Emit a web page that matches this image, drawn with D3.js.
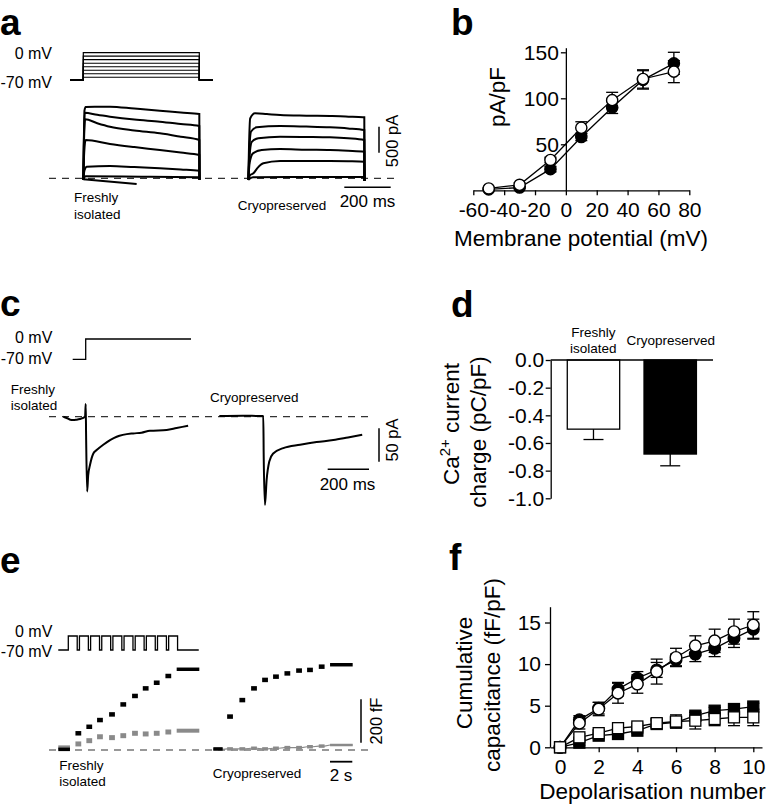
<!DOCTYPE html>
<html><head><meta charset="utf-8">
<script src="https://cdn.jsdelivr.net/npm/d3@7"></script>
<style>
body{margin:0;background:#fff}
svg{display:block}
text{font-family:"Liberation Sans",Arial,Helvetica,sans-serif;fill:#000}
</style>
</head><body>
<svg id="fig" width="776" height="811"></svg>
<script>
// ================= DATA =================
// Panel a – step protocol levels (mV)
const aStepLevels = [-63, -54, -45, -36, -27, -18, -9, 0];
// Panel a – current traces [time ms, current pA], freshly isolated
const aFreshTraces = [
  [[0,-30],[2,600],[5,1300],[10,1371],[60,1375],[115,1377],[220,1340],[330,1300],[420,1265],[500,1237],[501,-30]],
  [[0,-30],[2,600],[6,1262],[60,1220],[115,1185],[220,1130],[330,1088],[420,1045],[500,1006],[501,-30]],
  [[0,-30],[3,700],[8,1135],[60,1060],[115,992],[220,920],[330,865],[420,800],[500,737],[501,-30]],
  [[0,-30],[4,500],[10,737],[115,660],[220,600],[330,544],[420,495],[500,448],[501,-30]],
  [[0,-30],[5,150],[15,223],[115,237],[220,215],[330,192],[420,170],[500,146],[501,-30]],
  [[0,-30],[10,40],[250,30],[500,20],[501,-30]],
  [[0,-20],[230,-110]]
];
// Panel a – current traces, cryopreserved
const aCryoTraces = [
  [[0,-30],[3,600],[8,1150],[29,1250],[80,1235],[137,1217],[250,1205],[352,1198],[420,1190],[494,1173],[500,1173],[501,-50]],
  [[0,-30],[4,500],[12,900],[36,981],[137,1006],[250,995],[352,981],[430,960],[500,929],[501,-50]],
  [[0,-30],[5,400],[15,700],[43,769],[137,800],[250,795],[352,788],[430,770],[500,737],[501,-50]],
  [[0,-30],[6,300],[20,480],[58,544],[137,563],[250,550],[352,544],[430,530],[500,512],[501,-50]],
  [[0,-30],[8,60],[22,96],[40,200],[65,288],[137,333],[250,335],[352,333],[430,328],[500,320],[501,-50]],
  [[0,-30],[20,20],[250,25],[500,25],[501,-50]]
];

// Panel b – I–V relation
const bVoltages = [-50, -30, -10, 10, 30, 50, 70];
const bFilled    = [1, 3, 23, 58, 90, 120, 138];
const bFilledErr = [1, 1, 3, 4, 6.5, 10, 12];
const bOpen      = [2, 6, 33, 68, 98, 121, 129];
const bOpenErr   = [1, 2, 3, 6.5, 8.5, 10, 12];
const bXTicks = [-60, -40, -20, 0, 20, 40, 60, 80];
const bYTicks = [50, 100, 150];

// Panel c – Ca2+ current traces [ms, pA]
const cFreshTrace = [[-108,0],[-92,-2],[-75,-4.5],[-60,-5],[-45,-4.5],[-28,-3.5],[-3,0],[0,19],[2,-30],[7,-112],[12,-88],[21,-72],[37,-55],[53,-50],[85,-42],[150,-30],[230,-25],[270,-24],[311,-21],[392,-20],[440,-17],[496,-13.5]];
const cCryoTrace  = [[-213,1],[-100,1.5],[-10,1],[0,1],[2,-60],[8,-132],[16,-95],[29,-67],[48,-55],[97,-47],[178,-42],[258,-38],[339,-35],[410,-31],[479,-27]];

// Panel d – integrated Ca2+ charge
const dGroups = ["Freshly isolated", "Cryopreserved"];
const dValues = [-0.50, -0.68];
const dErrors = [0.075, 0.085];
const dYTicks = [0, -0.2, -0.4, -0.6, -0.8, -1.0];

// Panel e – capacitance traces (fF); first = pre-train, last = post-train, rest between pulses
const eFreshTimes = [0.9, 1.88, 2.84, 3.92, 4.93, 5.98, 6.94, 7.93, 8.97];
const eFreshBlack = [3, 77, 107, 138, 164, 210, 249, 284, 310, 341, 372];
const eFreshGray  = [12, 28, 43, 61, 57, 66, 77, 74, 77, 83, 89];
const eCryoTimes  = [0.9, 2.0, 3.05, 4.04, 5.02, 6.04, 7.09, 8.07, 9.12];
const eCryoBlack  = [5, 154, 230, 284, 323, 338, 353, 366, 369, 384, 393];
const eCryoGray   = [3, 5, 5, 8, 5, 8, 11, 11, 15, 18, 23];
const ePulseCount = 10, ePulsePeriod = 1.0, ePulseWidth = 0.8;

// Panel f – cumulative capacitance
const fDepol = [0, 1, 2, 3, 4, 5, 6, 7, 8, 9, 10];
const fCircFilled    = [0, 3.3, 4.7, 7.0, 8.3, 9.3, 10.5, 11.2, 11.9, 13.1, 14.2];
const fCircFilledErr = [0, 0.5, 0.7, 0.8, 0.8, 0.9, 0.7, 0.9, 1.0, 1.1, 1.2];
const fCircOpen      = [0, 2.9, 4.6, 6.5, 7.6, 9.1, 10.8, 12.2, 12.8, 13.9, 14.7];
const fCircOpenErr   = [0, 0.7, 0.8, 1.2, 1.1, 1.5, 1.1, 1.2, 1.4, 1.5, 1.6];
const fSqFilled      = [0, 0.56, 1.4, 1.6, 2.0, 2.8, 3.0, 3.8, 4.4, 4.6, 4.9];
const fSqFilledErr   = [0, 0.3, 0.3, 0.3, 0.3, 0.4, 0.4, 0.4, 0.4, 0.4, 0.4];
const fSqOpen        = [0, 1.2, 1.7, 2.3, 2.5, 2.9, 3.1, 3.2, 3.4, 3.6, 3.6];
const fSqOpenErr     = [0, 0.4, 0.4, 0.4, 0.4, 0.5, 0.8, 1.0, 0.8, 1.0, 1.0];
const fXTicks = [0, 2, 4, 6, 8, 10];
const fYTicks = [0, 5, 10, 15];

// ================= DRAWING =================
const svg = d3.select("#fig");
const FONT = '"Liberation Sans",Arial,Helvetica,sans-serif';
const hy = s => String(s).replace(/\u2212/g, "-");
const TICKFS = 21, TITLEFS = 22.5, SMALL = 13.5;

function label(x, y, txt, size, opts = {}) {
  const t = svg.append("text").attr("x", x).attr("y", y).attr("font-size", size).text(txt);
  if (opts.anchor) t.attr("text-anchor", opts.anchor);
  if (opts.bold) t.attr("font-weight", "bold");
  return t;
}
function vlabel(x, y, txt, size) {
  return svg.append("text").attr("transform", `translate(${x},${y}) rotate(-90)`)
    .attr("text-anchor", "middle").attr("font-size", size).text(txt);
}
function hline(x1, x2, y, w = 1.3, dash = null, color = "#000") {
  const l = svg.append("line").attr("x1", x1).attr("x2", x2).attr("y1", y).attr("y2", y)
    .attr("stroke", color).attr("stroke-width", w);
  if (dash) l.attr("stroke-dasharray", dash);
}
function vline(x, y1, y2, w = 1.3) {
  svg.append("line").attr("x1", x).attr("x2", x).attr("y1", y1).attr("y2", y2)
    .attr("stroke", "#000").attr("stroke-width", w);
}
function styleAxis(g, fs) {
  g.selectAll("path.domain").attr("stroke", "#000").attr("stroke-width", 1.3);
  g.selectAll(".tick line").attr("stroke", "#000").attr("stroke-width", 1.3);
  g.selectAll(".tick text").attr("font-size", fs).attr("font-family", FONT).attr("fill", "#000");
}

// Panel letters
const PL = 37;
label(0, 35, "a", PL, {bold: true});
label(451, 35, "b", PL, {bold: true});
label(0, 316, "c", PL, {bold: true});
label(451, 317, "d", PL, {bold: true});
label(0, 573, "e", PL, {bold: true});
label(449, 570, "f", PL, {bold: true});

// ---------- Panel a ----------
{
  const xF = d3.scaleLinear([0, 500], [83.3, 199.3]);
  const xC = d3.scaleLinear([0, 500], [248.3, 364.3]);
  const y = d3.scaleLinear([0, 500], [178.3, 152.3]);
  const v = d3.scaleLinear([-70, 0], [80, 52.7]);
  aStepLevels.forEach(L => {
    const pts = [[-57, -70], [0, -70], [0, L], [500, L], [500, -70], [559, -70]];
    svg.append("path").attr("d", d3.line().x(d => xF(d[0])).y(d => v(d[1]))(pts))
      .attr("fill", "none").attr("stroke", "#000").attr("stroke-width", 1.2);
  });
  label(52, 59, "0 mV", 16, {anchor: "end"});
  label(52, 87.5, "-70 mV", 16, {anchor: "end"});
  hline(49, 395, y(0), 1.2, "7,6", "#333");
  const line = (xs) => d3.line().x(d => xs(d[0])).y(d => y(d[1])).curve(d3.curveMonotoneX);
  aFreshTraces.forEach(tr => svg.append("path").attr("d", line(xF)(tr))
    .attr("fill", "none").attr("stroke", "#000").attr("stroke-width", 2));
  aCryoTraces.forEach(tr => svg.append("path").attr("d", line(xC)(tr))
    .attr("fill", "none").attr("stroke", "#000").attr("stroke-width", 2));
  vline(379, 152.7 - (y(0) - y(500)), 152.7, 1.5);
  hline(344.3, 344.3 + (xF(200) - xF(0)), 187.3, 1.5);
  vlabel(398, 141, "500 pA", 16.5);
  label(367.5, 207, "200 ms", 17, {anchor: "middle"});
  label(74, 202, "Freshly", SMALL);
  label(74, 218.5, "isolated", SMALL);
  label(237.7, 209.5, "Cryopreserved", SMALL);
}

// ---------- Panel b ----------
{
  const x = d3.scaleLinear([-60, 80], [473.3, 689.3]);
  const y = d3.scaleLinear([0, 155], [190.3, 47.7]);
  const gx = svg.append("g").attr("transform", `translate(0,${y(0)})`)
    .call(d3.axisBottom(x).tickValues(bXTicks).tickSize(5).tickSizeOuter(0).tickPadding(7).tickFormat(hy));
  styleAxis(gx, TICKFS);
  const gy = svg.append("g").attr("transform", `translate(${x(0)},0)`)
    .call(d3.axisLeft(y).tickValues(bYTicks).tickSize(5).tickSizeOuter(0).tickPadding(2).tickFormat(hy));
  styleAxis(gy, TICKFS);
  const series = [
    {vals: bFilled, err: bFilledErr, fill: "#000"},
    {vals: bOpen, err: bOpenErr, fill: "#fff"}
  ];
  series.forEach(s => {
    const pts = bVoltages.map((vv, i) => [vv, s.vals[i], s.err[i]]);
    svg.append("path").attr("d", d3.line().x(d => x(d[0])).y(d => y(d[1]))(pts))
      .attr("fill", "none").attr("stroke", "#000").attr("stroke-width", 1.3);
    pts.forEach(p => {
      vline(x(p[0]), y(p[1] - p[2]), y(p[1] + p[2]), 1.3);
      hline(x(p[0]) - 6, x(p[0]) + 6, y(p[1] + p[2]), 1.3);
      hline(x(p[0]) - 6, x(p[0]) + 6, y(p[1] - p[2]), 1.3);
    });
    svg.append("g").selectAll("circle").data(pts).join("circle")
      .attr("cx", d => x(d[0])).attr("cy", d => y(d[1])).attr("r", 5.6)
      .attr("fill", s.fill).attr("stroke", "#000").attr("stroke-width", 1.4);
  });
  vlabel(505, 97, "pA/pF", TITLEFS);
  label(581, 246, "Membrane potential (mV)", TITLEFS, {anchor: "middle"});
}

// ---------- Panel c ----------
{
  const xF = d3.scaleLinear([0, 200], [85.7, 127.0]);
  const xC = d3.scaleLinear([0, 200], [263.3, 304.6]);
  const y = d3.scaleLinear([0, -50], [416.7, 450.1]);
  const v = d3.scaleLinear([-70, 0], [359.3, 339]);
  const prot = [[-63, -70], [0, -70], [0, 0], [510, 0]];
  svg.append("path").attr("d", d3.line().x(d => xF(d[0])).y(d => v(d[1]))(prot))
    .attr("fill", "none").attr("stroke", "#000").attr("stroke-width", 1.3);
  label(52.3, 343.3, "0 mV", 16, {anchor: "end"});
  label(52.3, 364, "-70 mV", 16, {anchor: "end"});
  hline(49, 371, y(0), 1.2, "7,6", "#333");
  const line = xs => d3.line().x(d => xs(d[0])).y(d => y(d[1])).curve(d3.curveMonotoneX);
  svg.append("path").attr("d", line(xF)(cFreshTrace)).attr("fill", "none").attr("stroke", "#000").attr("stroke-width", 2);
  svg.append("path").attr("d", line(xC)(cCryoTrace)).attr("fill", "none").attr("stroke", "#000").attr("stroke-width", 2);
  vline(379, 428.3, 428.3 + (y(-50) - y(0)), 1.5);
  hline(327.7, 327.7 + (xF(200) - xF(0)), 469.3, 1.5);
  vlabel(398, 440, "50 pA", 16.5);
  label(347.5, 490, "200 ms", 17, {anchor: "middle"});
  label(10.7, 394, "Freshly", SMALL);
  label(10.7, 409.5, "isolated", SMALL);
  label(210, 401.5, "Cryopreserved", SMALL);
}

// ---------- Panel d ----------
{
  const x = d3.scaleBand(dGroups, [550.7, 713]).paddingInner(0.317).paddingOuter(0.216);
  const y = d3.scaleLinear([-1, 0], [498.3, 360]);
  const gy = svg.append("g").attr("transform", `translate(550.7,0)`)
    .call(d3.axisLeft(y).tickValues(dYTicks).tickSize(5).tickSizeOuter(0).tickPadding(1.5)
      .tickFormat(d => d.toFixed(1).replace("-0.0", "0.0")));
  styleAxis(gy, TICKFS);
  svg.append("g").selectAll("rect").data(dGroups).join("rect")
    .attr("x", d => x(d)).attr("width", x.bandwidth())
    .attr("y", y(0)).attr("height", (d, i) => y(dValues[i]) - y(0))
    .attr("fill", (d, i) => i === 0 ? "#fff" : "#000").attr("stroke", "#000").attr("stroke-width", 1.3);
  dGroups.forEach((g, i) => {
    const cx = x(g) + x.bandwidth() / 2;
    vline(cx, y(dValues[i]), y(dValues[i] - dErrors[i]), 1.3);
    hline(cx - 10, cx + 10, y(dValues[i] - dErrors[i]), 1.3);
  });
  hline(550.7, 713, y(0), 1.3);
  label(593.3, 336.5, "Freshly", SMALL, {anchor: "middle"});
  label(593.3, 352.5, "isolated", SMALL, {anchor: "middle"});
  label(670.8, 345, "Cryopreserved", SMALL, {anchor: "middle"});
  const t1 = svg.append("text").attr("transform", "translate(459,424) rotate(-90)")
    .attr("text-anchor", "middle").attr("font-size", TITLEFS);
  t1.append("tspan").text("Ca");
  t1.append("tspan").attr("font-size", 15).attr("dy", -9).text("2+");
  t1.append("tspan").attr("dy", 9).text(" current");
  vlabel(486, 432, "charge (pC/pF)", TITLEFS);
}

// ---------- Panel e ----------
{
  const xF = d3.scaleLinear([0, 2], [68.3, 90.6]);
  const xC = d3.scaleLinear([0, 2], [220, 242.3]);
  const y = d3.scaleLinear([0, 200], [750, 706.6]);
  const v = d3.scaleLinear([-70, 0], [650, 636]);
  const prot = [[-0.9, -70]];
  for (let k = 0; k < ePulseCount; k++) {
    const t0 = k * ePulsePeriod;
    prot.push([t0, -70], [t0, 0], [t0 + ePulseWidth, 0], [t0 + ePulseWidth, -70]);
  }
  prot.push([11.7, -70]);
  svg.append("path").attr("d", d3.line().x(d => xF(d[0])).y(d => v(d[1]))(prot))
    .attr("fill", "none").attr("stroke", "#000").attr("stroke-width", 1.3);
  label(52.3, 636.7, "0 mV", 16, {anchor: "end"});
  label(52.3, 657, "-70 mV", 16, {anchor: "end"});
  hline(49, 368, y(0), 1.2, "7,6", "#333");

  function segs(times, vals, pre, post) {
    const out = [[pre[0], pre[1], vals[0]]];
    times.forEach((t, i) => out.push([t - 0.26, t + 0.26, vals[i + 1]]));
    out.push([post[0], post[1], vals[vals.length - 1]]);
    return out;
  }
  function drawSegs(xs, s, color, w, connect) {
    if (connect) {
      const pts = [];
      s.forEach(d => { pts.push([d[0], d[2]], [d[1], d[2]]); });
      svg.append("path").attr("d", d3.line().x(d => xs(d[0])).y(d => y(d[1]))(pts))
        .attr("fill", "none").attr("stroke", color).attr("stroke-width", 1.2);
    }
    s.forEach((d, i) => {
      const long = (i === 0 || i === s.length - 1);
      svg.append("line").attr("x1", xs(d[0])).attr("x2", xs(d[1]))
        .attr("y1", y(d[2])).attr("y2", y(d[2])).attr("stroke", color)
        .attr("stroke-width", long ? w - 1 : w);
    });
  }
  drawSegs(xF, segs(eFreshTimes, eFreshGray, [-0.9, 0.15], [9.72, 11.75]), "#8a8a8a", 5, false);
  drawSegs(xF, segs(eFreshTimes, eFreshBlack, [-0.9, 0.15], [9.72, 11.75]), "#000", 4.5, false);
  drawSegs(xC, segs(eCryoTimes, eCryoGray, [-0.6, 0.24], [9.87, 11.9]), "#8a8a8a", 3.5, true);
  drawSegs(xC, segs(eCryoTimes, eCryoBlack, [-0.6, 0.24], [9.87, 11.9]), "#000", 4.5, false);

  vline(361, 742.7 - (y(0) - y(200)), 742.7, 1.5);
  hline(330, 330 + (xF(2) - xF(0)), 761.7, 1.8);
  vlabel(382, 721, "200 fF", 16.5);
  label(341, 780.7, "2 s", 17, {anchor: "middle"});
  label(59.3, 770, "Freshly", SMALL);
  label(59.3, 786, "isolated", SMALL);
  label(212.7, 778, "Cryopreserved", SMALL);
}

// ---------- Panel f ----------
{
  const x = d3.scaleLinear([-0.52, 10.45], [550, 762]);
  const y = d3.scaleLinear([0, 16.9], [747.3, 606.7]);
  const gx = svg.append("g").attr("transform", `translate(0,${y(0)})`)
    .call(d3.axisBottom(x).tickValues(fXTicks).tickSize(5).tickSizeOuter(0).tickPadding(7));
  styleAxis(gx, TICKFS);
  const gy = svg.append("g").attr("transform", `translate(${x(-0.52)},0)`)
    .call(d3.axisLeft(y).tickValues(fYTicks).tickSize(5).tickSizeOuter(0).tickPadding(4));
  styleAxis(gy, TICKFS);
  const series = [
    {vals: fCircFilled, err: fCircFilledErr, fill: "#000", shape: "c"},
    {vals: fCircOpen, err: fCircOpenErr, fill: "#fff", shape: "c"},
    {vals: fSqFilled, err: fSqFilledErr, fill: "#000", shape: "s"},
    {vals: fSqOpen, err: fSqOpenErr, fill: "#fff", shape: "s"}
  ];
  series.forEach(s => {
    const pts = fDepol.map((n, i) => [n, s.vals[i], s.err[i]]);
    svg.append("path").attr("d", d3.line().x(d => x(d[0])).y(d => y(d[1]))(pts))
      .attr("fill", "none").attr("stroke", "#000").attr("stroke-width", 1.3);
    pts.forEach(p => {
      if (p[2] <= 0) return;
      vline(x(p[0]), y(p[1] - p[2]), y(p[1] + p[2]), 1.3);
      hline(x(p[0]) - 6, x(p[0]) + 6, y(p[1] + p[2]), 1.3);
      hline(x(p[0]) - 6, x(p[0]) + 6, y(p[1] - p[2]), 1.3);
    });
    if (s.shape === "c") {
      svg.append("g").selectAll("circle").data(pts).join("circle")
        .attr("cx", d => x(d[0])).attr("cy", d => y(d[1])).attr("r", 5.8)
        .attr("fill", s.fill).attr("stroke", "#000").attr("stroke-width", 1.4);
    } else {
      svg.append("g").selectAll("rect").data(pts).join("rect")
        .attr("x", d => x(d[0]) - 5.5).attr("y", d => y(d[1]) - 5.5).attr("width", 11).attr("height", 11)
        .attr("fill", s.fill).attr("stroke", "#000").attr("stroke-width", 1.3);
    }
  });
  vlabel(472, 673, "Cumulative", TITLEFS);
  vlabel(500, 675, "capacitance (fF/pF)", TITLEFS);
  label(652.5, 799, "Depolarisation number", TITLEFS, {anchor: "middle"});
}
</script>
</body></html>
